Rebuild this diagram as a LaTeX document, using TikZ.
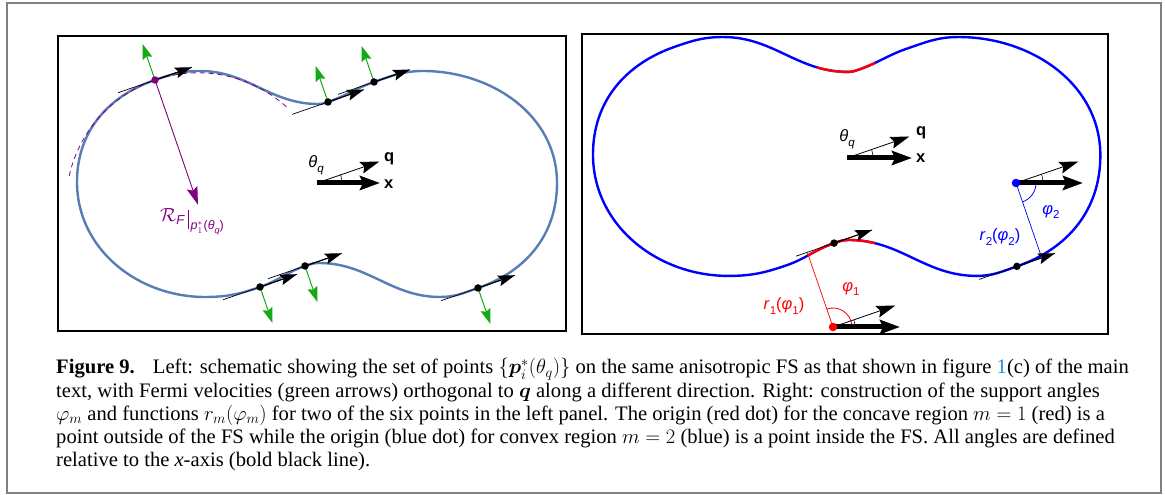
\RequirePackage{fix-cm}
\documentclass[tikz,border=0pt]{standalone}
\usepackage{bm}
\usepackage{fontspec}
\setmainfont{Liberation Serif}
\newfontfamily\labfont{Liberation Sans}
\usetikzlibrary{arrows.meta}
\definecolor{fsblue}{RGB}{88,124,181}
\definecolor{fgreen}{RGB}{20,170,20}
\definecolor{pur}{RGB}{128,0,128}
\definecolor{linkblue}{RGB}{30,144,210}
\definecolor{framegray}{RGB}{128,128,128}
\definecolor{pureblue}{RGB}{0,0,255}
\definecolor{purered}{RGB}{255,0,0}
\def\FSpath{(77,313) to[out=90,in=199] (155,415) to[out=19,in=180] (200,424) to[out=0,in=180] (318,391) to[out=0,in=199] (328,393) to[out=19,in=199] (374,413) to[out=19,in=180] (423,424) to[out=0,in=90] (557,312) to[out=-90,in=19] (478,207) to[out=199,in=0] (440,198) to[out=180,in=0] (319,232) to[out=180,in=19] (305,229) to[out=199,in=19] (260,208) to[out=199,in=0] (205,198) to[out=180,in=-90] (77,313) -- cycle}
\newcommand\sbs[1]{\raisebox{-0.28em}{\fontsize{11.5}{13}\selectfont #1}}
\newcommand\thq{\textit{θ}\sbs{\textit{q}}}
\newcommand\tanv[2]{%
  \path (#1) ++(199:#2) coordinate (#1b) (#1) ++(19:#2) coordinate (#1f);
  \draw[tang] (#1b) -- (#1f);
  \draw[vel] (#1) -- (#1f);}
\newcommand\grv[2]{%
  \path (#1) ++(#2:38) coordinate (#1g);
  \draw[grn] (#1) -- (#1g);}
\tikzset{
  fsline/.style={draw=fsblue, line width=2.4pt},
  bline/.style={draw=pureblue, line width=2.4pt},
  rline/.style={draw=purered, line width=2.4pt},
  tang/.style={black, line width=0.7pt},
  vel/.style={black, line width=1.1pt, -{Stealth[length=17pt,width=11pt,inset=3pt]}},
  grn/.style={draw=fgreen, line width=1pt, -{Stealth[length=15pt,width=10pt,inset=2pt]}},
  dotb/.style={circle, fill=black, inner sep=0pt, minimum size=7.5pt},
  thickx/.style={line width=5pt, -{Stealth[length=20pt,width=14pt,inset=3pt]}},
  qarrow/.style={line width=0.8pt, -{Stealth[length=19pt,width=12pt,inset=3pt]}},
  smallarc/.style={line width=0.6pt},
  lab/.style={font=\labfont\fontsize{16.5}{19}\selectfont, inner sep=0pt},
  capt/.style={anchor=base west, inner sep=0pt, font=\fontsize{20.6}{24}\selectfont},
}
\begin{document}
\begin{tikzpicture}[x=1pt,y=1pt]
\useasboundingbox (0,0) rectangle (1165,495);
\fill[white] (0,0) rectangle (1165,495);
\draw[framegray, line width=2.6pt] (7,492) rectangle (1161,2);
\draw[line width=1.3pt] (58,459) rectangle (566,164);
\draw[line width=1.3pt] (582,461) rectangle (1108,161);

% ---------------- left panel ----------------
\draw[fsline] \FSpath;
\coordinate (B) at (155,415);
\coordinate (E) at (328,393);
\coordinate (F) at (374,413);
\coordinate (J) at (478,207);
\coordinate (L) at (305,229);
\coordinate (M) at (260,208);
\path (B) ++(-71:132) coordinate (Cc);
\draw[pur, line width=0.8pt, dash pattern=on 5pt off 4pt] (Cc) ++(48:132) arc[start angle=48, end angle=168, radius=132];
\draw[pur, line width=0.9pt, -{Stealth[length=18pt,width=11pt,inset=3pt]}] (B) -- (Cc);
\node[text=pur, inner sep=0pt] (RF) at (192,273) {{\fontsize{19}{21}\selectfont$\mathcal{R}$}\raisebox{-0.3em}{\labfont\fontsize{13}{15}\selectfont\textit{F}}\hspace{3pt}\rule[-7pt]{1.3pt}{19pt}\hspace{1.5pt}\raisebox{-8pt}{\labfont\fontsize{12.5}{14}\selectfont\textit{p}$^{*}_{1}$\hspace{1pt}(\textit{θ}\raisebox{-0.25em}{\fontsize{9}{10}\selectfont\textit{q}})}};
\tanv{B}{39} \tanv{E}{38} \tanv{F}{38} \tanv{J}{39} \tanv{L}{39} \tanv{M}{39}
\grv{B}{109} \grv{E}{109} \grv{F}{109} \grv{J}{-71} \grv{L}{-71} \grv{M}{-71}
\node[circle, fill=pur, inner sep=0pt, minimum size=7.5pt] (dB) at (B) {};
\node[dotb] (dE) at (E) {};
\node[dotb] (dF) at (F) {};
\node[dotb] (dJ) at (J) {};
\node[dotb] (dL) at (L) {};
\node[dotb] (dM) at (M) {};
% centre arrows
\coordinate (Q1) at (317,312);
\coordinate (X1) at (380,312);
\path (Q1) ++(19:66) coordinate (q1);
\draw[smallarc] (Q1) ++(25,0) arc[start angle=0, end angle=19, radius=25];
\draw[qarrow] (Q1) -- (q1);
\draw[thickx] (Q1) -- (X1);
\node[lab, anchor=west] (xl1) at (384,311) {\textbf{x}};
\node[lab, anchor=west] (ql1) at (384,336) {\textbf{q}};
\node[lab] (tl1) at (316,330) {\thq};

% ---------------- right panel ----------------
\begin{scope}[shift={(511.6,9.8)}, scale=1.057]
  \draw[bline] \FSpath;
  \begin{scope}
    \clip (289,330) rectangle (344,440);
    \draw[rline] \FSpath;
  \end{scope}
  \begin{scope}
    \clip (280,180) rectangle (344,290);
    \draw[rline] \FSpath;
  \end{scope}
  \coordinate (RL) at (305,229);
  \coordinate (RJ) at (478,207);
  \tanv{RL}{38} \tanv{RJ}{38}
  \node[dotb] (dRL) at (RL) {};
  \node[dotb] (dRJ) at (RJ) {};
\end{scope}
% centre arrows right
\coordinate (Q2) at (847,337);
\coordinate (X2) at (912,337);
\path (Q2) ++(19:66) coordinate (q2);
\draw[smallarc] (Q2) ++(26,0) arc[start angle=0, end angle=19, radius=26];
\draw[qarrow] (Q2) -- (q2);
\draw[thickx] (Q2) -- (X2);
\node[lab, anchor=west] (xl2) at (916,337) {\textbf{x}};
\node[lab, anchor=west] (ql2) at (916,362) {\textbf{q}};
\node[lab] (tl2) at (847,356) {\thq};
% red origin
\coordinate (O1) at (833,168);
\coordinate (XO1) at (900,168);
\path (O1) ++(19:66) coordinate (qO1);
\path (O1) ++(109:79) coordinate (FO1);
\draw[purered, line width=0.7pt] (O1) -- (FO1);
\draw[purered, line width=0.8pt] (O1) ++(19,0) arc[start angle=0, end angle=109, radius=19];
\draw[smallarc] (O1) ++(22,0) arc[start angle=0, end angle=19, radius=22];
\draw[qarrow] (O1) -- (qO1);
\draw[thickx] (O1) -- (XO1);
\node[circle, fill=purered, inner sep=0pt, minimum size=8.5pt] (dO1) at (O1) {};
\node[lab, text=purered] (phi1) at (851,206) {\textit{φ}\sbs{1}};
\node[lab, text=purered] (r1) at (784,189) {\textit{r}\sbs{1}(\textit{φ}\sbs{1})};
% blue origin
\coordinate (O2) at (1016,312);
\coordinate (XO2) at (1083,312);
\path (O2) ++(19:66) coordinate (qO2);
\path (O2) ++(-71:79) coordinate (FO2);
\draw[pureblue, line width=0.7pt] (O2) -- (FO2);
\draw[pureblue, line width=0.8pt] (O2) ++(20,0) arc[start angle=0, end angle=-71, radius=20];
\draw[smallarc] (O2) ++(27,0) arc[start angle=0, end angle=19, radius=27];
\draw[qarrow] (O2) -- (qO2);
\draw[thickx] (O2) -- (XO2);
\node[circle, fill=pureblue, inner sep=0pt, minimum size=8.5pt] (dO2) at (O2) {};
\node[lab, text=pureblue] (phi2) at (1051,283) {\textit{φ}\sbs{2}};
\node[lab, text=pureblue] (r2) at (1000,258) {\textit{r}\sbs{2}(\textit{φ}\sbs{2})};

% ---------------- caption ----------------
\node[capt] (c1) at (56,121) {\textbf{Figure 9.}\hspace{0.55em} Left: schematic showing the set of points $\{\bm{p}_i^*(\theta_q)\}$ on the same anisotropic FS as that shown in figure {\color{linkblue}1}(c) of the main};
\node[capt] (c2) at (56,97.7) {text, with Fermi velocities (green arrows) orthogonal to $\bm{q}$ along a different direction. Right: construction of the support angles};
\node[capt] (c3) at (56,74.5) {$\varphi_m$ and functions $r_m(\varphi_m)$ for two of the six points in the left panel. The origin (red dot) for the concave region $m=1$ (red) is a};
\node[capt] (c4) at (56,51.2) {point outside of the FS while the origin (blue dot) for convex region $m=2$ (blue) is a point inside the FS. All angles are defined};
\node[capt] (c5) at (56,28) {relative to the \textit{x}-axis (bold black line).};
\end{tikzpicture}
\end{document}
